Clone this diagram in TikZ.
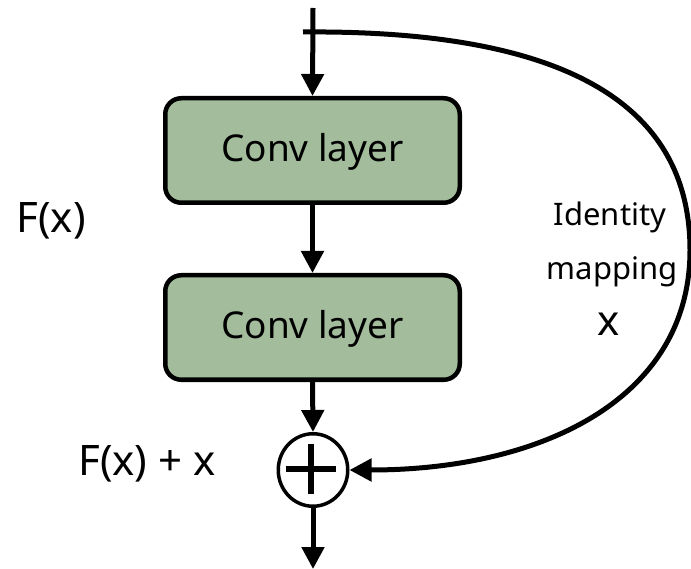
\documentclass[tikz,border=0pt]{standalone}
\usepackage{fontspec}
\setmainfont{Noto Sans}
\usetikzlibrary{arrows.meta,shapes.geometric}
\definecolor{boxgreen}{HTML}{A3BD9C}
\begin{document}
\begin{tikzpicture}[x=1pt,y=-1pt,
  layerbox/.style={draw=black,line width=4.5pt,fill=boxgreen,rounded corners=16pt,minimum width=294.5pt,minimum height=104.5pt,font=\fontsize{37}{42}\selectfont,inner sep=0pt,text height=22pt,text depth=0pt},
  sumnode/.style={draw=black,line width=3.5pt,ellipse,minimum width=69.5pt,minimum height=72.5pt,inner sep=0pt},
  conn/.style={line width=5pt,-{Triangle[length=22pt,width=22pt]}},
  lbl/.style={font=\fontsize{42}{48}\selectfont,inner sep=0pt},
  slbl/.style={font=\fontsize{31}{36}\selectfont,inner sep=0pt}]
\useasboundingbox (0,0) rectangle (691,569);
\coordinate (in) at (313,8);
\coordinate (tap) at (303,32);
\coordinate (out) at (313,569);
\node[layerbox] (c1) at (312.5,150.5) {Conv layer};
\node[layerbox] (c2) at (312.5,327.5) {Conv layer};
\node[sumnode] (sum) at (313,470) {};
\draw[line width=6.5pt] (285.5,469) -- (335.5,469);
\draw[line width=6.5pt] (311,444) -- (311,494);
\draw[conn] (in) -- (c1.north);
\draw[conn] (c1.south) -- (c2.north);
\draw[conn] (c2.south) -- (sum.north);
\draw[conn] (sum.south) -- (out);
\draw[conn] (tap) .. controls (540,30) and (690,90) .. (690,250) .. controls (690,400) and (540,470) .. (sum.east);
\node[lbl] (fx) at (51,221) {F(x)};
\node[lbl] (fxx) at (147,464) {F(x) + x};
\node[slbl] (id1) at (610,217) {Identity};
\node[slbl] (id2) at (612,272) {mapping};
\node[font=\fontsize{42}{48}\selectfont,inner sep=0pt] (idx) at (609,324) {x};
\end{tikzpicture}
\end{document}
